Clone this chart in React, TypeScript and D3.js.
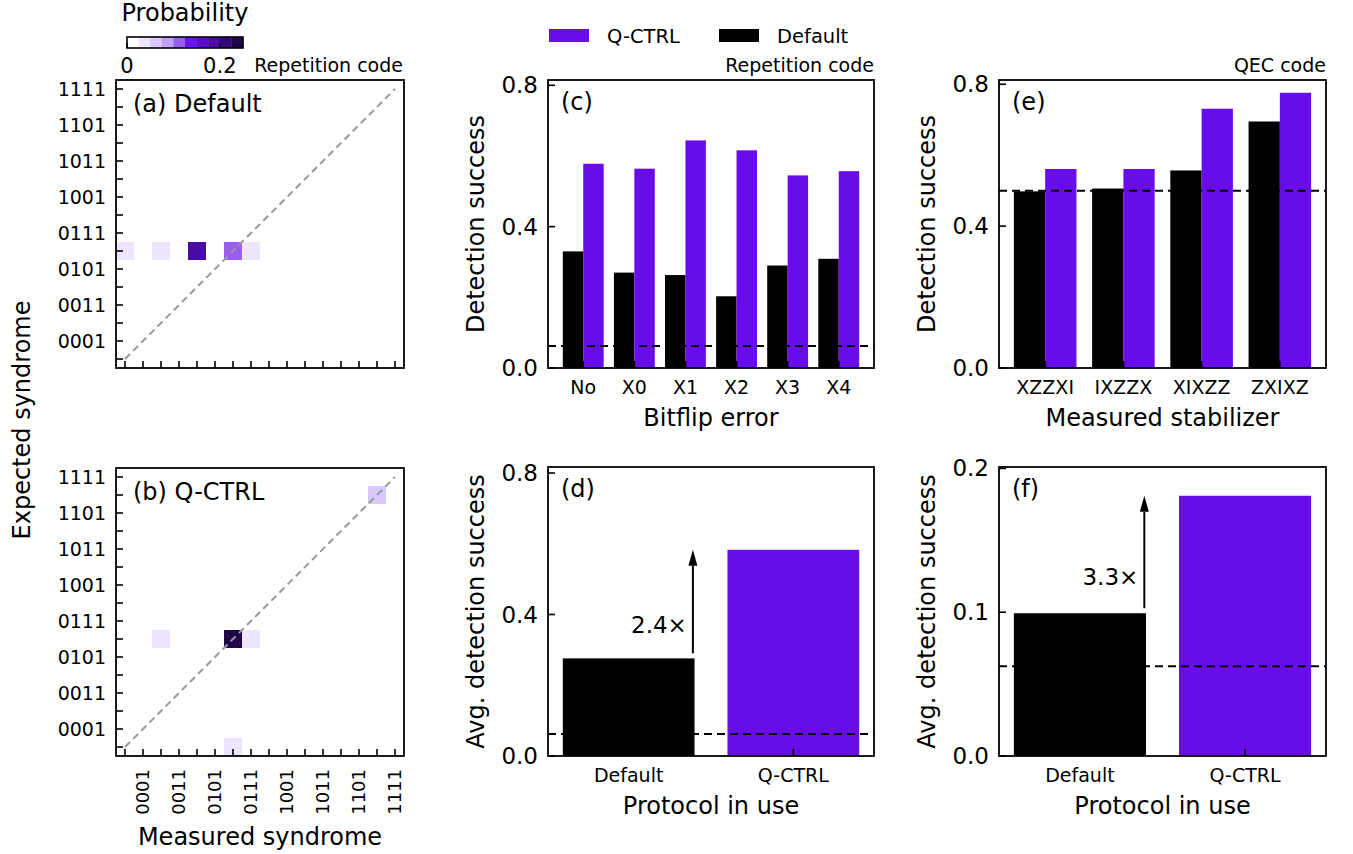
import React from 'react';
import * as d3 from 'd3';

const FONT = '"DejaVu Sans", "Liberation Sans", sans-serif';
const QCTRL = '#680ce9';
const BLACK = '#000000';

// ---------- data ----------
const syndromeLabels = [
  '0000', '0001', '0010', '0011', '0100', '0101', '0110', '0111',
  '1000', '1001', '1010', '1011', '1100', '1101', '1110', '1111',
];
const syndromeTickLabels = ['0001', '0011', '0101', '0111', '1001', '1011', '1101', '1111'];

const defaultCells = [
  { measured: '0000', expected: '0110', p: 0.03 },
  { measured: '0010', expected: '0110', p: 0.03 },
  { measured: '0100', expected: '0110', p: 0.19 },
  { measured: '0110', expected: '0110', p: 0.11 },
  { measured: '0111', expected: '0110', p: 0.03 },
];
const qctrlCells = [
  { measured: '0010', expected: '0110', p: 0.03 },
  { measured: '0110', expected: '0110', p: 0.24 },
  { measured: '0111', expected: '0110', p: 0.03 },
  { measured: '1110', expected: '1110', p: 0.06 },
  { measured: '0110', expected: '0000', p: 0.03 },
];

const colorThresholds = [0.025, 0.05, 0.075, 0.1, 0.125, 0.15, 0.175, 0.2, 0.225];
const colorSteps = [
  '#ffffff', '#ede5fd', '#d9c8fb', '#bfa0f8', '#9a5ff1',
  '#6d14e8', '#5c0dcc', '#4a0aa5', '#350779', '#21054a',
];
const colorbarTicks = [0, 0.2];

const bitflipCats = ['No', 'X0', 'X1', 'X2', 'X3', 'X4'];
const bitflipDefault = [0.33, 0.27, 0.263, 0.203, 0.29, 0.309];
const bitflipQctrl = [0.578, 0.564, 0.644, 0.616, 0.545, 0.557];

const stabCats = ['XZZXI', 'IXZZX', 'XIXZZ', 'ZXIXZ'];
const stabDefault = [0.498, 0.506, 0.557, 0.695];
const stabQctrl = [0.561, 0.561, 0.731, 0.776];

const protocols = ['Default', 'Q-CTRL'];
const repAvg = [0.276, 0.583];
const qecAvg = [0.0993, 0.181];

const repBaseline = 0.0625;
const qecStabBaseline = 0.5;
const qecAvgBaseline = 0.0625;

const ticks08 = [0, 0.4, 0.8];
const ticks02 = [0, 0.1, 0.2];

// ---------- heatmap ----------
function Heatmap({ left, top, size, cells, label, showXLabels }: any) {
  const x = d3.scaleLinear().domain([-0.5, 15.5]).range([left, left + size]);
  const y = d3.scaleLinear().domain([-0.5, 15.5]).range([top + size, top]);
  const color = d3.scaleThreshold<number, string>().domain(colorThresholds).range(colorSteps);
  const idx = (s: string) => syndromeLabels.indexOf(s);
  const cw = x(0.5) - x(-0.5);
  const bottom = top + size;
  const tl = 7;
  return (
    <g>
      {cells.map((c: any, i: number) => (
        <rect key={i} x={x(idx(c.measured) - 0.5)} y={y(idx(c.expected) + 0.5)}
          width={cw} height={cw} fill={color(c.p)} />
      ))}
      <line x1={x(0)} y1={y(0)} x2={x(15)} y2={y(15)} stroke="#999999" strokeWidth={2}
        strokeDasharray="7,4.5" />
      {syndromeLabels.map((s, i) => (
        <g key={s}>
          <line x1={left} x2={left + tl} y1={y(i)} y2={y(i)} stroke="#000" strokeWidth={1.6} />
          <line x1={x(i)} x2={x(i)} y1={bottom} y2={bottom - tl} stroke="#000" strokeWidth={1.6} />
        </g>
      ))}
      {syndromeTickLabels.map((s) => (
        <text key={s} x={left - 10} y={y(idx(s))} textAnchor="end" dominantBaseline="central"
          fontSize={19} fontFamily={FONT}>{s}</text>
      ))}
      {showXLabels && syndromeTickLabels.map((s) => (
        <text key={'x' + s} transform={`translate(${x(idx(s)) - 1},${bottom + 13}) rotate(-90)`}
          textAnchor="end" dominantBaseline="central" fontSize={18} fontFamily={FONT}>{s}</text>
      ))}
      <rect x={left} y={top} width={size} height={size} fill="none" stroke="#000" strokeWidth={1.8} />
      <text x={left + 17} y={top + 32} fontSize={24} fontFamily={FONT}>{label}</text>
    </g>
  );
}

// ---------- bar panel ----------
function BarPanel({ left, top, right, bottom, cats, series, xDomain, yMax, yTicks, yFmt,
  baseline, label, xLabel, yLabel, topNote, arrow }: any) {
  const x = d3.scaleLinear().domain(xDomain).range([left, right]);
  const y = d3.scaleLinear().domain([0, yMax]).range([bottom, top]);
  const tl = 7;
  return (
    <g>
      {series.map((s: any, si: number) =>
        s.values.map((v: number, i: number) => (
          <rect key={si + '-' + i} x={x(i + s.offset)} y={y(v)}
            width={x(i + s.offset + s.width) - x(i + s.offset)} height={y(0) - y(v)} fill={s.color} />
        )))}
      <line x1={left} x2={right} y1={y(baseline)} y2={y(baseline)} stroke="#000" strokeWidth={2}
        strokeDasharray="8,5" />
      {cats.map((c: string, i: number) => (
        <g key={c}>
          <line x1={x(i)} x2={x(i)} y1={bottom} y2={bottom - tl} stroke="#000" strokeWidth={1.6} />
          <text x={x(i)} y={bottom + 19} textAnchor="middle" dominantBaseline="central"
            fontSize={19} fontFamily={FONT}>{c}</text>
        </g>
      ))}
      {yTicks.map((t: number) => (
        <g key={t}>
          <line x1={left} x2={left + tl} y1={y(t)} y2={y(t)} stroke="#000" strokeWidth={1.6} />
          <text x={left - 10} y={y(t)} textAnchor="end" dominantBaseline="central" fontSize={23}
            fontFamily={FONT}>{yFmt(t)}</text>
        </g>
      ))}
      {arrow && (() => {
        const ax = x(arrow.x);
        const y1 = y(arrow.from) - 5;
        const y2 = y(arrow.to);
        const hl = 16;
        const hw = 4.5;
        return (
          <g>
            <line x1={ax} x2={ax} y1={y1} y2={y2 + hl} stroke="#000" strokeWidth={2} />
            <polygon points={`${ax},${y2} ${ax - hw},${y2 + hl} ${ax + hw},${y2 + hl}`} fill="#000" />
            <text x={ax - 6} y={y(arrow.labelY)} textAnchor="end" dominantBaseline="central"
              fontSize={23} fontFamily={FONT}>{arrow.text}</text>
          </g>
        );
      })()}
      <rect x={left} y={top} width={right - left} height={bottom - top} fill="none" stroke="#000"
        strokeWidth={1.8} />
      <text x={left + 13} y={top + 30} fontSize={24} fontFamily={FONT}>{label}</text>
      {topNote && (
        <text x={right} y={top - 8} textAnchor="end" fontSize={19} fontFamily={FONT}>{topNote}</text>
      )}
      <text x={(left + right) / 2} y={bottom + 50} textAnchor="middle" dominantBaseline="central"
        fontSize={24} fontFamily={FONT}>{xLabel}</text>
      <text transform={`translate(${left - 72},${(top + bottom) / 2}) rotate(-90)`} textAnchor="middle"
        dominantBaseline="central" fontSize={24} fontFamily={FONT}>{yLabel}</text>
    </g>
  );
}

function Colorbar({ left, top, width, height }: any) {
  const xs = d3.scaleLinear().domain([0, 0.25]).range([left, left + width]);
  const edges = [0, ...colorThresholds, 0.25];
  return (
    <g>
      <text x={left + width / 2} y={21} textAnchor="middle" fontSize={24} fontFamily={FONT}>Probability</text>
      {colorSteps.map((c, i) => (
        <rect key={c} x={xs(edges[i])} y={top} width={xs(edges[i + 1]) - xs(edges[i]) + 0.3}
          height={height} fill={c} />
      ))}
      {colorbarTicks.map((t) => (
        <g key={t}>
          <line x1={xs(t)} x2={xs(t)} y1={top + height} y2={top + height - 5} stroke="#000" strokeWidth={1.4} />
          <text x={xs(t)} y={73} textAnchor="middle" fontSize={21} fontFamily={FONT}>{t === 0 ? '0' : d3.format('.1f')(t)}</text>
        </g>
      ))}
      <rect x={left} y={top} width={width} height={height} fill="none" stroke="#000" strokeWidth={1.6} />
    </g>
  );
}

export default function App() {
  const f1 = d3.format('.1f');
  return (
    <svg width={1353} height={854} style={{ position: 'absolute', left: 0, top: 0, background: '#fff' }}
      fontFamily={FONT}>
      <rect x={0} y={0} width={1353} height={854} fill="#fff" />
      <Colorbar left={127} top={37} width={116} height={11} />
      <text x={403} y={72} textAnchor="end" fontSize={19} fontFamily={FONT}>Repetition code</text>

      <Heatmap left={116} top={80} size={288} cells={defaultCells} label="(a) Default" showXLabels={false} />
      <Heatmap left={116} top={468} size={288} cells={qctrlCells} label="(b) Q-CTRL" showXLabels={true} />
      <text transform="translate(22,420) rotate(-90)" textAnchor="middle" dominantBaseline="central"
        fontSize={24} fontFamily={FONT}>Expected syndrome</text>
      <text x={260} y={837} textAnchor="middle" dominantBaseline="central" fontSize={24}
        fontFamily={FONT}>Measured syndrome</text>

      {/* legend */}
      <rect x={549} y={29} width={40} height={13} fill={QCTRL} />
      <text x={607} y={36} dominantBaseline="central" fontSize={19.5} fontFamily={FONT}>Q-CTRL</text>
      <rect x={719} y={29} width={40} height={13} fill={BLACK} />
      <text x={777} y={36} dominantBaseline="central" fontSize={19.5} fontFamily={FONT}>Default</text>

      <BarPanel left={548} top={80} right={874} bottom={368} cats={bitflipCats}
        series={[
          { values: bitflipDefault, color: BLACK, offset: -0.4, width: 0.4 },
          { values: bitflipQctrl, color: QCTRL, offset: 0, width: 0.4 },
        ]}
        xDomain={[-0.69, 5.69]} yMax={0.815} yTicks={ticks08} yFmt={f1} baseline={repBaseline}
        label="(c)" xLabel="Bitflip error" yLabel="Detection success" topNote="Repetition code" />

      <BarPanel left={999} top={80} right={1326} bottom={368} cats={stabCats}
        series={[
          { values: stabDefault, color: BLACK, offset: -0.4, width: 0.4 },
          { values: stabQctrl, color: QCTRL, offset: 0, width: 0.4 },
        ]}
        xDomain={[-0.59, 3.59]} yMax={0.812} yTicks={ticks08} yFmt={f1} baseline={qecStabBaseline}
        label="(e)" xLabel="Measured stabilizer" yLabel="Detection success" topNote="QEC code" />

      <BarPanel left={548} top={467} right={874} bottom={756} cats={protocols}
        series={[
          { values: [repAvg[0], NaN], color: BLACK, offset: -0.4, width: 0.8 },
          { values: [NaN, repAvg[1]], color: QCTRL, offset: -0.4, width: 0.8 },
        ].map((s) => ({ ...s, values: s.values.map((v) => (isNaN(v) ? 0 : v)) }))}
        xDomain={[-0.49, 1.49]} yMax={0.817} yTicks={ticks08} yFmt={f1} baseline={repBaseline}
        label="(d)" xLabel="Protocol in use" yLabel="Avg. detection success"
        arrow={{ x: 0.39, from: repAvg[0], to: repAvg[1], labelY: 0.37, text: '2.4×' }} />

      <BarPanel left={999} top={467} right={1326} bottom={756} cats={protocols}
        series={[
          { values: [qecAvg[0], 0], color: BLACK, offset: -0.4, width: 0.8 },
          { values: [0, qecAvg[1]], color: QCTRL, offset: -0.4, width: 0.8 },
        ]}
        xDomain={[-0.49, 1.49]} yMax={0.201} yTicks={ticks02} yFmt={f1} baseline={qecAvgBaseline}
        label="(f)" xLabel="Protocol in use" yLabel="Avg. detection success"
        arrow={{ x: 0.39, from: qecAvg[0], to: qecAvg[1], labelY: 0.1248, text: '3.3×' }} />
    </svg>
  );
}
